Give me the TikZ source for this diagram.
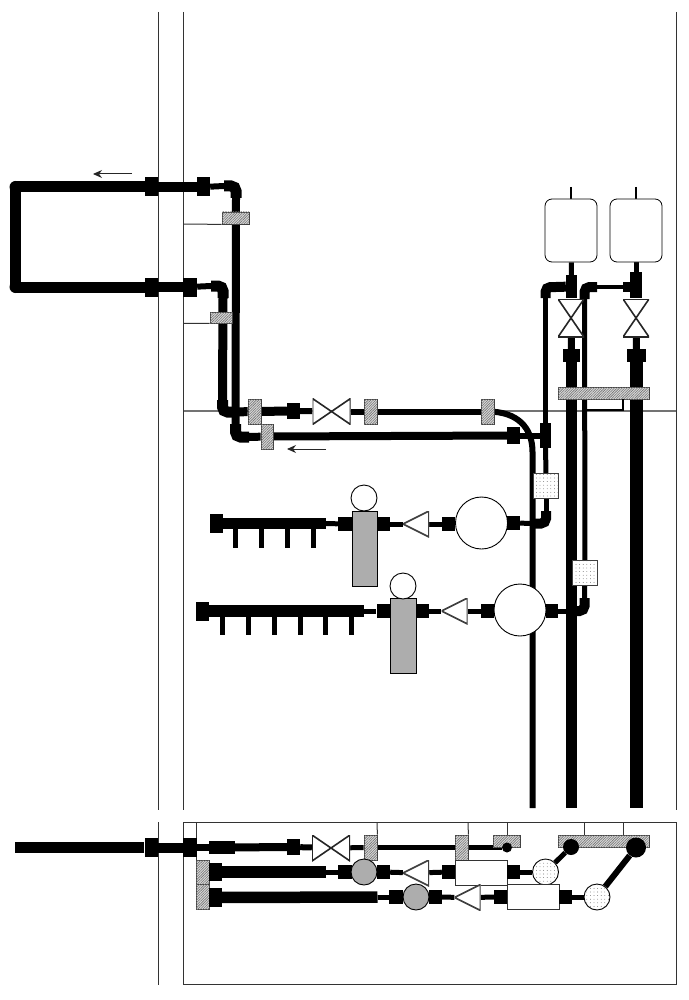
\documentclass[tikz,border=0pt]{standalone}
\usepackage{tikz}
\usetikzlibrary{patterns.meta,backgrounds,arrows.meta}

\tikzset{
    pipe/.style={black,line width=#1},
    elbow/.style={black,line width=11pt,rounded corners=5pt},
    wall/.style={black!80,line width=1pt},
    fitting/.style={fill=black,inner sep=0pt,minimum width=13pt,minimum height=14pt},
    flange/.style={fitting,minimum height=19pt},
    hatchbox/.style={draw=black!75,line width=.8pt,inner sep=0pt,fill=black!15,
        postaction={pattern={Lines[angle=45,distance=1.8pt,line width=.6pt]},pattern color=black!55},
        minimum width=13pt,minimum height=25pt},
    graybox/.style={draw=black,line width=.8pt,inner sep=0pt,fill=black!32},
    dotbox/.style={draw=black!75,line width=.8pt,inner sep=0pt,minimum size=25pt,fill=white,
        postaction={pattern={Dots[distance=3.6pt,radius=.4pt]},pattern color=black!70}},
    whitecirc/.style={draw=black,line width=.9pt,fill=white,circle,inner sep=0pt,minimum size=26pt},
    graycirc/.style={whitecirc,fill=black!32},
    dotcirc/.style={whitecirc,postaction={pattern={Dots[distance=3.6pt,radius=.4pt]},pattern color=black!70}},
    blackdot/.style={fill=black,circle,inner sep=0pt,minimum size=16pt},
    pump/.style={whitecirc,minimum size=52pt},
    unitbox/.style={draw=black!80,line width=.9pt,fill=white,inner sep=0pt,minimum width=52pt,minimum height=25pt},
    tank/.style={draw=black,line width=.8pt,fill=white,rounded corners=7pt,inner sep=0pt,minimum width=52pt,minimum height=63pt},
    hvalve/.style={inner sep=0pt,minimum width=38pt,minimum height=26pt,path picture={
        \draw[line width=1.6pt,black!85,fill=white] (path picture bounding box.north west) -- (path picture bounding box.south east)
            -- (path picture bounding box.north east) -- (path picture bounding box.south west) -- cycle;}},
    vvalve/.style={inner sep=0pt,minimum width=26pt,minimum height=38pt,path picture={
        \draw[line width=1.6pt,black!85,fill=white] (path picture bounding box.north west) -- (path picture bounding box.south east)
            -- (path picture bounding box.south west) -- (path picture bounding box.north east) -- cycle;}},
    checktri/.style={inner sep=0pt,minimum size=26pt,path picture={
        \draw[line width=1.6pt,black!75,fill=white] (path picture bounding box.west) -- (path picture bounding box.north east)
            -- (path picture bounding box.south east) -- cycle;}},
    flowarrow/.style={black!85,line width=1pt,-{Stealth[length=9pt,width=8pt]}}
}

\begin{document}
\begin{tikzpicture}[x=1pt,y=-1pt]
    \useasboundingbox (0,0) rectangle (688,1000);

    \node[blackdot,minimum size=12pt] (cnrA) at (15.5,187) {};
    \node[blackdot,minimum size=12pt] (cnrB) at (15.5,287) {};
    \node[flange] (fA1) at (151,187) {};
    \node[flange] (fA2) at (203.5,187) {};
    \node[flange] (fB1) at (151,287) {};
    \node[flange,minimum width=14pt] (fB2) at (190,287) {};
    \node[hatchbox,minimum width=27pt,minimum height=12pt] (hA) at (235.5,218) {};
    \node[hatchbox,minimum width=22pt,minimum height=11pt] (hB) at (221,317.5) {};

    \node[hatchbox] (hC) at (254.5,411.5) {};
    \node[fitting,minimum height=16pt] (fC) at (293.5,411) {};
    \node[hvalve] (vA) at (331.5,411.5) {};
    \node[hatchbox] (hD) at (370.5,411.5) {};
    \node[hatchbox] (hE) at (487.5,411.5) {};
    \node[hatchbox,minimum width=12pt] (hF) at (267,436.5) {};
    \node[fitting,minimum height=17pt] (fD) at (513.5,435.5) {};
    \node[fitting,minimum width=11pt,minimum height=25pt] (fE) at (545.5,435.5) {};

    \node[tank] (tankA) at (571,230.5) {};
    \node[tank] (tankB) at (636,230.5) {};
    \node[fitting,minimum width=11pt,minimum height=23pt] (fF) at (571.5,286.5) {};
    \node[fitting,minimum width=12pt,minimum height=26pt] (fI) at (636,285) {};
    \node[fitting,minimum width=7pt,minimum height=10pt] (fH) at (626.5,287) {};
    \node[vvalve] (vB) at (571,318) {};
    \node[vvalve] (vC) at (636,318) {};
    \node[fitting,minimum width=17pt,minimum height=13pt] (fJ) at (571.5,355.5) {};
    \node[fitting,minimum width=19pt,minimum height=13pt] (fK) at (636.5,355.5) {};
    \node[hatchbox,minimum width=91pt,minimum height=12pt] (barA) at (603.5,393) {};
    \node[dotbox] (dA) at (546,486) {};
    \node[dotbox] (dB) at (585,573) {};

    \node[flange] (fR1) at (216,523.5) {};
    \node[fitting,minimum width=14pt] (fR2) at (345,524) {};
    \node[graybox,minimum width=25pt,minimum height=75pt] (gA) at (364.5,548.5) {};
    \node[whitecirc] (cA) at (364,498) {};
    \node[fitting] (fR3) at (383.5,524) {};
    \node[checktri] (triA) at (416,524) {};
    \node[fitting] (fR4) at (448.5,524) {};
    \node[pump] (pA) at (481.5,523) {};
    \node[fitting] (fR5) at (513.5,523) {};

    \node[flange] (fS1) at (202.5,611) {};
    \node[fitting,minimum width=14pt] (fS2) at (383.5,611) {};
    \node[graybox,minimum width=26pt,minimum height=75pt] (gB) at (403,635.5) {};
    \node[whitecirc] (cB) at (403,586) {};
    \node[fitting] (fS3) at (422.5,611) {};
    \node[checktri] (triB) at (454.5,611) {};
    \node[fitting] (fS4) at (487.5,611) {};
    \node[pump] (pB) at (520,610) {};
    \node[fitting,minimum width=12pt] (fS5) at (552,611) {};

    \node[flange] (fU1) at (151,847.5) {};
    \node[flange,minimum width=14pt] (fU2) at (190,847.5) {};
    \node[fitting,minimum width=26pt,minimum height=13pt] (fU3) at (222,847.5) {};
    \node[fitting,minimum height=16pt] (fU4) at (293.5,847) {};
    \node[hvalve] (vD) at (331,848) {};
    \node[hatchbox] (hG) at (370.5,847.5) {};
    \node[hatchbox] (hH) at (461.5,847.5) {};
    \node[hatchbox,minimum width=27pt,minimum height=12pt] (hI) at (506.5,841) {};
    \node[blackdot,minimum size=10pt] (bdC) at (507,847.5) {};
    \node[hatchbox,minimum width=91pt,minimum height=12pt] (barB) at (603.5,841) {};
    \node[blackdot] (bdA) at (571,847) {};
    \node[blackdot,minimum size=20pt] (bdB) at (636,847.5) {};

    \node[hatchbox,minimum height=24pt] (hJ) at (202.5,872) {};
    \node[fitting,minimum height=18pt] (fV1) at (215.5,872) {};
    \node[fitting,minimum width=14pt] (fV2) at (345,872) {};
    \node[graycirc] (gC) at (364,872) {};
    \node[fitting] (fV3) at (383.5,872) {};
    \node[checktri] (triC) at (416,873) {};
    \node[fitting] (fV4) at (448.5,872) {};
    \node[unitbox] (rA) at (481.5,872.5) {};
    \node[fitting] (fV5) at (513.5,872) {};
    \node[dotcirc] (dC) at (545.5,872) {};

    \node[hatchbox] (hK) at (202.5,897) {};
    \node[flange] (fW1) at (215.5,897.5) {};
    \node[fitting,minimum width=14pt] (fW2) at (396,897) {};
    \node[graycirc] (gD) at (416,897) {};
    \node[fitting] (fW3) at (435.5,897) {};
    \node[checktri] (triD) at (467.5,897.5) {};
    \node[fitting] (fW4) at (500.5,897) {};
    \node[unitbox] (rB) at (533,897) {};
    \node[fitting] (fW5) at (565.5,897) {};
    \node[dotcirc] (dD) at (597,897) {};

    \coordinate (eA1) at (224,186);
    \coordinate (eA2) at (236,186);
    \coordinate (eA3) at (236,198);
    \coordinate (eB1) at (211,286);
    \coordinate (eB2) at (223,286);
    \coordinate (eB3) at (223,298);
    \coordinate (eC1) at (222.5,400);
    \coordinate (eC2) at (222.5,412);
    \coordinate (eC3) at (233,412);
    \coordinate (eD1) at (235.5,424);
    \coordinate (eD2) at (235.5,437);
    \coordinate (eD3) at (249,437);
    \coordinate (eE1) at (545.5,298);
    \coordinate (eE2) at (545.5,287);
    \coordinate (eE3) at (556,287);
    \coordinate (eF1) at (546,511);
    \coordinate (eF2) at (546,523.5);
    \coordinate (eF3) at (535,523.5);
    \coordinate (eG1) at (584.5,299);
    \coordinate (eG2) at (584.5,287);
    \coordinate (eG3) at (597,287);
    \coordinate (eH1) at (584.5,598);
    \coordinate (eH2) at (584.5,611);
    \coordinate (eH3) at (573,611);
    \coordinate (bendA) at (532.5,452);
    \coordinate (endA) at (532.5,808);
    \coordinate (endB) at (571.5,808);
    \coordinate (endC) at (636.5,808);
    \coordinate (stubA) at (571,187);
    \coordinate (stubB) at (636,187);
    \coordinate (mA) at (325.5,523.5);
    \coordinate (mB) at (364,611);
    \coordinate (mC) at (325.5,872);
    \coordinate (mD) at (377.5,897);
    \coordinate (inlet) at (15,847.5);

    \begin{scope}[on background layer]
    \draw[wall] (158,12) -- (158,810);
    \draw[wall] (158,822) -- (158,985);
    \draw[wall] (183.5,12) -- (183.5,810);
    \draw[wall] (676,12) -- (676,810);
    \draw[black!55,line width=2pt] (183.5,410.5) -- (676,410.5);
    \draw[wall] (183.5,822.5) rectangle (676,984.5);
    \draw[wall] (196.5,822.5) -- (196.5,860);

    \draw[pipe=11pt,line join=round] (fA1.center) -- (cnrA.center) -- (cnrB.center) -- (fB1.center);
    \draw[pipe=10pt] (fA1) -- (fA2);
    \draw[pipe=6pt] (fA2) -- (eA1);
    \draw[elbow] (eA1) -- (eA2) -- (eA3);
    \draw[pipe=10pt] (fB1) -- (fB2);
    \draw[pipe=6pt] (fB2) -- (eB1);
    \draw[elbow] (eB1) -- (eB2) -- (eB3);
    \draw[pipe=9pt] (eB3) -- (eC1);
    \draw[pipe=8pt] (eA3) -- (eD1);
    \draw[elbow] (eC1) -- (eC2) -- (eC3);
    \draw[elbow] (eD1) -- (eD2) -- (eD3);

    \draw[pipe=9pt] (eC3) -- (hC);
    \draw[pipe=9pt] (hC) -- (fC);
    \draw[pipe=6pt] (fC) -- (vA);
    \draw[pipe=6pt] (vA) -- (hD);
    \draw[pipe=6pt] (hD) -- (hE);
    \draw[pipe=6pt] (hE.center) .. controls (518,411.5) and (532.5,428) .. (bendA) -- (endA);
    \draw[pipe=8pt] (eD3) -- (hF);
    \draw[pipe=8pt] (hF) -- (fD);
    \draw[pipe=6pt] (fD) -- (fE);
    \draw[pipe=5pt] (fE) -- (eE1);
    \draw[elbow,line width=10pt] (eE1) -- (eE2) -- (eE3);
    \draw[pipe=10pt] (eE3) -- (fF);

    \draw[pipe=2pt] (stubA) -- (tankA);
    \draw[pipe=2pt] (stubB) -- (tankB);
    \draw[pipe=5pt] (tankA) -- (fF);
    \draw[pipe=5pt] (tankB) -- (fI);
    \draw[pipe=7pt] (vB) -- (fJ);
    \draw[pipe=7pt] (vC) -- (fK);
    \draw[pipe=11pt] (fJ) -- (endB);
    \draw[pipe=13pt] (fK) -- (endC);
    \draw[pipe=4pt] (fH) -- (eG3);
    \draw[elbow,line width=10pt] (eG3) -- (eG2) -- (eG1);
    \draw[pipe=5pt] (eG1) -- (dB);
    \draw[pipe=5pt] (dB) -- (eH1);
    \draw[elbow,line width=10pt] (eH1) -- (eH2) -- (eH3);
    \draw[pipe=5pt] (eH3) -- (fS5);
    \draw[pipe=5pt] (fE) -- (dA);
    \draw[pipe=5pt] (dA) -- (eF1);
    \draw[elbow,line width=10pt] (eF1) -- (eF2) -- (eF3);
    \draw[pipe=5pt] (eF3) -- (fR5);

    \draw[pipe=11.5pt] (fR1) -- (mA);
    \draw[pipe=5pt] (mA) -- (fR2);
    \draw[pipe=5pt] (fR3) -- (triA);
    \draw[pipe=5pt] (triA) -- (fR4);
    \foreach \x in {235,261,287,313} {
        \coordinate (ra\x) at (\x,524);
        \coordinate (rb\x) at (\x,548);
        \draw[pipe=5pt] (ra\x) -- (rb\x);
    }

    \draw[pipe=11.5pt] (fS1) -- (mB);
    \draw[pipe=5pt] (mB) -- (fS2);
    \draw[pipe=5pt] (fS3) -- (triB);
    \draw[pipe=5pt] (triB) -- (fS4);
    \foreach \x in {222,248,274,300,325,351} {
        \coordinate (sa\x) at (\x,611);
        \coordinate (sb\x) at (\x,635);
        \draw[pipe=5pt] (sa\x) -- (sb\x);
    }

    \draw[pipe=11pt] (inlet) -- (fU1);
    \draw[pipe=10pt] (fU1) -- (fU2);
    \draw[pipe=7pt] (fU2) -- (fU3);
    \draw[pipe=8pt] (fU3) -- (fU4);
    \draw[pipe=6pt] (fU4) -- (vD);
    \draw[pipe=5pt] (vD) -- (hG);
    \draw[pipe=5pt] (hG) -- (hH);
    \draw[pipe=5pt] (hH) -- (bdC);

    \draw[pipe=11.5pt] (fV1) -- (mC);
    \draw[pipe=5pt] (mC) -- (fV2);
    \draw[pipe=5pt] (fV3) -- (triC);
    \draw[pipe=5pt] (triC) -- (fV4);
    \draw[pipe=5pt] (fV5) -- (dC);
    \draw[pipe=5pt] (dC) -- (bdA);

    \draw[pipe=11.5pt] (fW1) -- (mD);
    \draw[pipe=5pt] (mD) -- (fW2);
    \draw[pipe=5pt] (fW3) -- (triD);
    \draw[pipe=5pt] (triD) -- (fW4);
    \draw[pipe=5pt] (fW5) -- (dD);
    \draw[pipe=6pt] (dD) -- (bdB);
    \end{scope}

    \coordinate (wallA) at (183.5,224);
    \coordinate (wallB) at (183.5,323.5);
    \coordinate (roofG) at (377,822.5);
    \coordinate (roofH) at (468,822.5);
    \coordinate (roofI) at (507,822.5);
    \coordinate (roofJ) at (584,822.5);
    \coordinate (roofK) at (623,822.5);
    \coordinate (legA) at (623,410);
    \coordinate (legB) at (587,410);
    \draw[wall] (hA.south west) -- (wallA);
    \draw[wall] (hB.south west) -- (wallB);
    \draw[wall] (roofG) -- (hG.north east);
    \draw[wall] (roofH) -- (hH.north east);
    \draw[wall] (roofI) -- (roofI |- hI.north);
    \draw[wall] (roofJ) -- (roofJ |- barB.north);
    \draw[wall] (roofK) -- (roofK |- barB.north);
    \draw[black,line width=1.3pt] (legA |- barA.south) -- (legA) -- (legB);

    \coordinate (tailA) at (132,174);
    \coordinate (headA) at (93,174);
    \coordinate (tailB) at (326,449);
    \coordinate (headB) at (287,449);
    \draw[flowarrow] (tailA) -- (headA);
    \draw[flowarrow] (tailB) -- (headB);
\end{tikzpicture}
\end{document}
